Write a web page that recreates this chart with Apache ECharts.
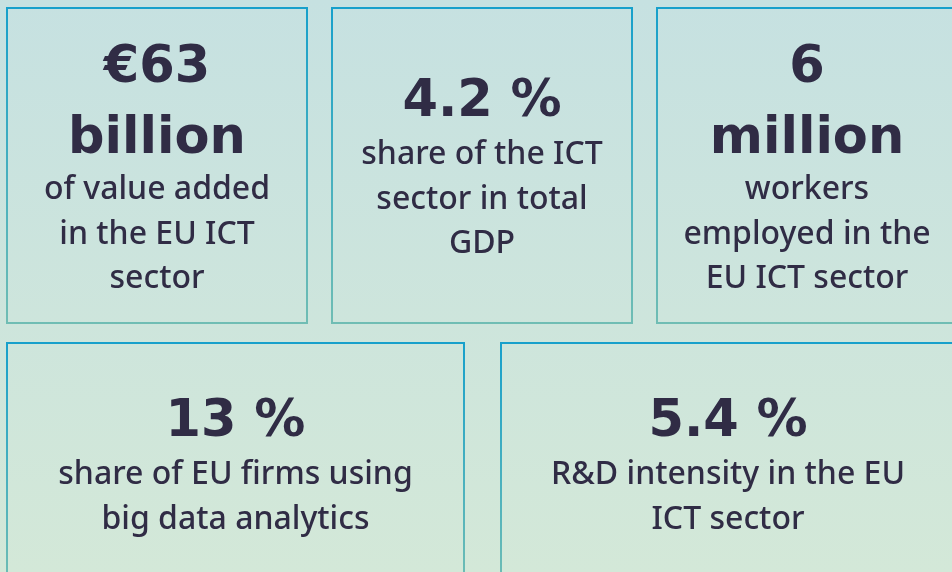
<!DOCTYPE html>
<html>
<head>
<meta charset="utf-8">
<script src="https://cdn.jsdelivr.net/npm/echarts@6/dist/echarts.min.js"></script>
<style>
  html, body { margin: 0; padding: 0; }
  #chart { width: 952px; height: 572px; }
</style>
</head>
<body>
<div id="chart"></div>
<script>
// key figures
const figures = ['€63', '4.2 %', '6', '13 %', '5.4 %'];
const units = ['billion', '', 'million', '', ''];
const captions = [
  ['of value added', 'in the EU ICT', 'sector'],
  ['share of the ICT', 'sector in total', 'GDP'],
  ['workers', 'employed in the', 'EU ICT sector'],
  ['share of EU firms using', 'big data analytics'],
  ['R&D intensity in the EU', 'ICT sector']
];

// box frames [x, y, w, h] and vertical centre of the figure line
const boxes = [
  [7, 8, 300, 315],
  [332, 8, 300, 315],
  [657, 8, 300, 315],
  [7, 343, 457, 240],
  [501, 343, 454, 240]
];
const figureY = [69, 103, 69, 423, 423];

const chart = echarts.init(document.getElementById('chart'));

const bigFont = 'bold 51px "DejaVu Sans"';
const smallFont = '500 32px "Noto Sans"';
const textColor = '#302c45';

const elements = [];

// background
elements.push({
  type: 'rect',
  shape: { x: 0, y: 0, width: 952, height: 572 },
  style: {
    fill: new echarts.graphic.LinearGradient(0, 0, 0, 1, [
      { offset: 0, color: '#c6e1e1' },
      { offset: 1, color: '#d3e8d8' }
    ])
  },
  z: 0
});

boxes.forEach((b, i) => {
  const [x, y, w, h] = b;
  const cx = x + w / 2;
  elements.push({
    type: 'rect',
    shape: { x: x, y: y, width: w, height: h },
    style: {
      fill: 'transparent',
      stroke: new echarts.graphic.LinearGradient(0, 0, 0, 1, [
        { offset: 0, color: '#17a0cb' },
        { offset: 1, color: '#70bdb4' }
      ]),
      lineWidth: 2
    },
    z: 1
  });

  let cy = figureY[i];
  elements.push({
    type: 'text',
    x: cx, y: cy,
    style: {
      text: figures[i],
      fill: textColor,
      font: bigFont,
      align: 'center',
      verticalAlign: 'middle'
    },
    z: 2
  });
  let next = cy + 52;
  if (units[i]) {
    cy += 71;
    elements.push({
      type: 'text',
      x: cx, y: cy,
      style: {
        text: units[i],
        fill: textColor,
        font: bigFont,
        align: 'center',
        verticalAlign: 'middle'
      },
      z: 2
    });
    next = cy + 50;
  }
  captions[i].forEach((line, k) => {
    elements.push({
      type: 'text',
      x: cx, y: next + k * 44.5,
      style: {
        text: line,
        fill: textColor,
        font: smallFont,
        align: 'center',
        verticalAlign: 'middle'
      },
      z: 2
    });
  });
});

chart.setOption({
  animation: false,
  graphic: { elements: elements }
});
</script>
</body>
</html>
